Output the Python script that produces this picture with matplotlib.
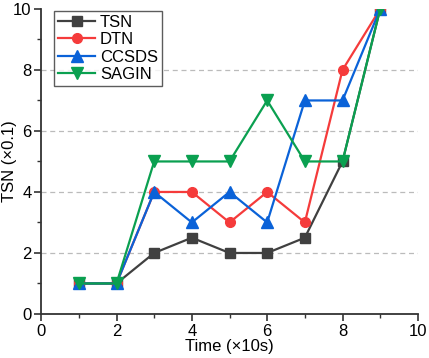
import matplotlib
matplotlib.use("Agg")
import matplotlib.pyplot as plt
from matplotlib.ticker import MultipleLocator

plt.rcParams['font.family'] = ['Liberation Sans', 'DejaVu Sans']

time = [1, 2, 3, 4, 5, 6, 7, 8, 9]
tsn = [1, 1, 2, 2.5, 2, 2, 2.5, 5, 10]
dtn = [1, 1, 4, 4, 3, 4, 3, 8, 10]
ccsds = [1, 1, 4, 3, 4, 3, 7, 7, 10]
sagin = [1, 1, 5, 5, 5, 7, 5, 5, 10]

fig = plt.figure(figsize=(4.29, 3.58), dpi=100)
ax = fig.add_axes([0.096, 0.123, 0.878, 0.852])

ax.plot(time, tsn, color='#404040', marker='s', ms=7, lw=1.6, label='TSN', zorder=3)
ax.plot(time, dtn, color='#f53b3b', marker='o', ms=7, lw=1.6, label='DTN', zorder=3)
ax.plot(time, ccsds, color='#0a62d8', marker='^', ms=8, lw=1.6, label='CCSDS', zorder=3)
ax.plot(time, sagin, color='#0aa050', marker='v', ms=8, lw=1.6, label='SAGIN', zorder=3)

# dashed grid at the major y ticks only
for y in [2, 4, 6, 8]:
    ax.axhline(y, color='#bbbbbb', lw=0.9, ls=(0, (4, 3)), zorder=1)

ax.set_xlim(0, 10)
ax.set_ylim(0, 10)
ax.xaxis.set_major_locator(MultipleLocator(2))
ax.xaxis.set_minor_locator(MultipleLocator(1))
ax.yaxis.set_major_locator(MultipleLocator(2))
ax.yaxis.set_minor_locator(MultipleLocator(1))
ax.spines['top'].set_visible(False)
ax.spines['right'].set_visible(False)
for s in ['left', 'bottom']:
    ax.spines[s].set_linewidth(1.3)
    ax.spines[s].set_color('#333333')
ax.tick_params(which='major', length=5, width=1.2, labelsize=12, colors='#333333',
               labelcolor='black', pad=2)
ax.tick_params(which='minor', length=3, width=1.0, colors='#333333')

ax.set_xlabel('Time (×10s)', fontsize=12, labelpad=0)
ax.set_ylabel('TSN (×0.1)', fontsize=12)
ax.yaxis.set_label_coords(-0.064, 0.5)

leg = ax.legend(loc='upper left', bbox_to_anchor=(0.03, 1.0), fontsize=12, frameon=True,
                fancybox=False, edgecolor='#333333', handlelength=2.2,
                borderpad=0.25, labelspacing=0.15, handletextpad=0.3, borderaxespad=0.1)
leg.get_frame().set_linewidth(1.0)

fig.savefig('out.png', dpi=100)
